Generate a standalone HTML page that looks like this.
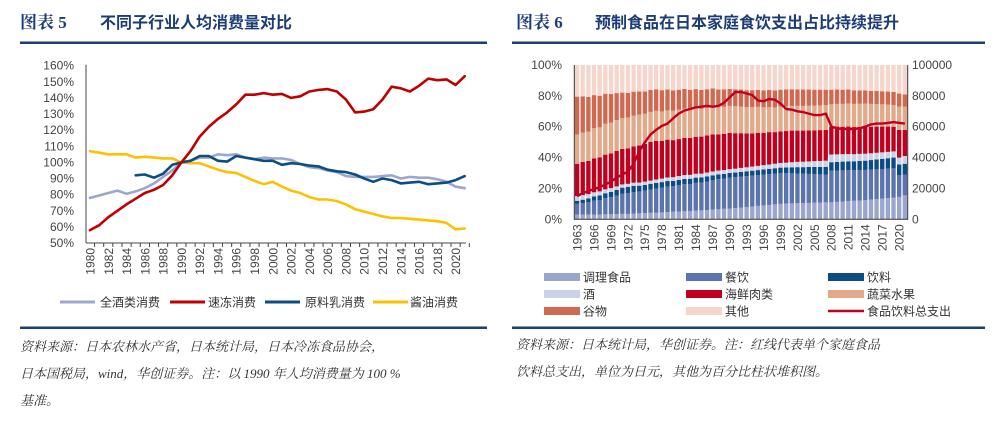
<!DOCTYPE html>
<html><head><meta charset="utf-8"><style>
html,body{margin:0;padding:0;background:#fff;}
svg{display:block;font-family:"Liberation Sans","Noto Sans CJK SC",sans-serif;}
</style></head><body>
<svg id="s" width="1004" height="423" viewBox="0 0 1004 423" xmlns="http://www.w3.org/2000/svg">
<g font-weight="bold" fill="#1c3d75" font-size="17" font-family="'Liberation Serif','Noto Serif CJK SC',serif">
<text x="20" y="28">图表 5</text><text x="100" y="28" font-family="'Liberation Sans','Noto Sans CJK SC',sans-serif" font-size="16">不同子行业人均消费量对比</text></g>
<g font-weight="bold" fill="#1c3d75" font-size="17" font-family="'Liberation Serif','Noto Serif CJK SC',serif">
<text x="516" y="28">图表 6</text><text x="595" y="28" font-family="'Liberation Sans','Noto Sans CJK SC',sans-serif" font-size="16">预制食品在日本家庭食饮支出占比持续提升</text></g>
<rect x="20" y="41.5" width="467" height="2.5" fill="#1c3d75"/>
<rect x="512" y="41.5" width="473" height="2.5" fill="#1c3d75"/>
<rect x="20" y="326.5" width="467" height="2.5" fill="#1c3d75"/>
<rect x="512" y="326.5" width="473" height="2.5" fill="#1c3d75"/>
<g font-style="italic" font-size="13" fill="#333" font-family="'Liberation Serif','Noto Serif CJK SC',serif">
<text x="20" y="351">资料来源：日本农林水产省，日本统计局，日本冷冻食品协会，</text>
<text x="20" y="378">日本国税局，wind，华创证券。注：以 1990 年人均消费量为 100 %</text>
<text x="20" y="405">基准。</text></g>
<g font-style="italic" font-size="13" fill="#333" font-family="'Liberation Serif','Noto Serif CJK SC',serif">
<text x="516" y="349">资料来源：日本统计局，华创证券。注：红线代表单个家庭食品</text>
<text x="516" y="376">饮料总支出，单位为日元，其他为百分比柱状堆积图。</text></g>
<g id="left"></g><g id="right"></g>
</svg>
<script>
// ---- Left chart data ----
const lYears = [];for(let y=1980;y<=2021;y++)lYears.push(y);
const lTicks = [50,60,70,80,90,100,110,120,130,140,150,160];
const liquor = [78,79.5,81,82.5,80.5,82,84,87,91,95,100,101,103,103,105,104.5,105,103,102,103,102.5,102.5,101.5,99,97,96.5,95,94,91.5,91,91,91,91.5,92,90,91,90.5,90.5,89.5,88,85,84];
const frozen = [58,61,66,70,74,77.5,81,83,86,92,100,107,116,122,127,131,136,142,142,143,142,142.5,140,141,144,145,145.5,144,139,131,131.5,133,139,147,146,144,147.5,152,151,151.5,148,153.5];
const milkYears = [];for(let y=1985;y<=2021;y++)milkYears.push(y);
const milk = [92,92.5,90.5,93,98.5,100,101,104,104,101,100.5,104,103,102,101,101,98.5,99.5,99,98,97.5,95.5,94.5,94,92.5,90,88,90,89,87,87.5,88,86.5,87,87.5,89,91.5];
const soy = [107,106,105,105,105,103,103.5,103,102.5,102.5,100,99.5,99.5,97.5,95.5,94,93.5,91,88.5,86.5,88,85,82.5,81,78.5,77,77,76,74,71,69.5,68,66.5,65.5,65.5,65,64.5,64,63.5,62.5,58.5,59];

// ---- Right chart data ----
const rYears = [];for(let y=1963;y<=2021;y++)rYears.push(y);
const rTicksL = [0,20,40,60,80,100];
const rTicksR = [0,20000,40000,60000,80000,100000];
const prepared = [3,3,3,3,3,3.2,3.3,3.4,3.5,3.5, 3.7,3.9,4,4.2,4.4,4.5,4.7,4.9,5, 5.2,5.4,5.6,5.8,6,6.3,6.5,6.8,7, 7.3,7.6,8,8.3,8.7,9,9.3,9.7,10, 10.1,10.3,10.4,10.5,10.6,10.8,10.9,11, 11,11.3,11.5,11.8,12,12.2,12.5, 12.8,13.1,13.4,13.7,14, 14.5,15.5];
const dining = [7,7.5,8,9,9.5,10.5,11,12,13,13.5, 14,14,14.5,15,15.5,16,16.5,16.5,17, 17.5,17.5,18,18,18.5,19,19.5,19.5,20, 20,20,20,20,20,20,20,20,20, 19.8,19.5,19.3,19,18.8,18.5,18.2,18, 20.5,20.3,20.2,20,19.8,19.7,19.5, 19.4,19.3,19.2,19.1,19, 14,13.5];
const drinks = [2,2.2,2.5,2.8,3,3.2,3.5,3.7,4,4, 4,3.9,3.8,3.8,3.7,3.6,3.6,3.5,3.5, 3.5,3.4,3.4,3.3,3.3,3.2,3.1,3.1,3, 3,3.1,3.1,3.2,3.2,3.3,3.4,3.4,3.5, 3.7,3.9,4.1,4.3,4.5,4.6,4.8,5, 5.5,5.6,5.7,5.8,5.8,5.9,6, 6.2,6.4,6.6,6.8,7, 7,7];
const alcohol = [3,3,2.8,2.7,2.6,2.5,2.4,2.2,2.1,2, 2,2,2.1,2.1,2.2,2.3,2.3,2.4,2.5, 2.5,2.5,2.5,2.5,2.5,2.5,2.5,2.5,2.5, 2.5,2.6,2.6,2.7,2.7,2.8,2.8,2.9,3, 3.1,3.3,3.4,3.5,3.6,3.8,3.9,4, 5,4.9,4.8,4.7,4.6,4.6,4.5, 4.4,4.3,4.2,4.1,4, 4.5,5];
const meat = [21,21.5,21.5,22,22,22.5,22.5,23,23,23, 23.5,24,24.5,25,25,24.5,24.5,24,24, 24,24,24,24,24,24,23.5,23.5,23.5, 23,22.5,22,21.5,21.5,21,21,20.5,20.5, 20.5,20.5,20.3,20.2,20.1,20,20,20, 18,18,17.8,17.8,17.6,17.5,17.5, 17.2,17,16.7,16.4,16, 18,17];
const veg = [19,19,19,19.5,19.5,20,20,20,20,20, 20,20,19.5,19.5,19.5,19,19,19,19, 19,18.5,18.5,18,18,18,17.5,17.5,17.5, 17.5,17.3,17,17,16.8,16.5,16.3,16,16, 16,16,16,16,16,16,16,16, 14.5,14.7,14.8,15,15,15,15, 14.8,14.6,14.4,14.2,14, 15,15];
const grain = [24.5,23.5,22.5,21.5,20.5,19.5,18.5,17.5,16.5,16, 15.5,15,14.5,14.2,14,13.8,13.5,13.2,13, 12.8,12.6,12.4,12.2,12,11.8,11.5,11.3,11, 11,11,11,11,11,11,11,11,11, 11,10.8,10.7,10.6,10.5,10.3,10.2,10, 9.5,9.3,9.2,9,8.8,8.7,8.5, 8.5,8.5,8.5,8.5,8.5, 8.5,8];
const totalSpend = [15000,17000,18500,19500,21000,22500,24500,27000,29000,31000,36000,44000,50000,55000,58000,60500,62000,65500,68500,70500,71500,72500,73000,73500,73000,73500,75500,79000,82500,82500,81500,80500,77000,76500,78000,77500,75000,71500,71000,70000,69500,68500,67500,67500,68500,60000,59000,58500,58500,58500,59000,60000,61500,62000,62000,62500,63000,62500,62000];

const NS='http://www.w3.org/2000/svg';
function mk(parent,tag,attrs,txt){const e=document.createElementNS(NS,tag);for(const k in attrs)e.setAttribute(k,attrs[k]);if(txt!==undefined)e.textContent=txt;parent.appendChild(e);return e;}

// ---- Left chart ----
const L=document.getElementById('left');
const lx0=86,lx1=466,ly0=243,ly1=65.7;
const lxs=y=>90+(y-1980)*9.14;
const lys=v=>ly0-(v-50)*(ly0-ly1)/110;
lTicks.forEach(t=>{
  const e=mk(L,'text',{x:74,y:lys(t)+4,'text-anchor':'end','font-size':12,fill:'#444'},t+'%');
  
  
});
const lax=mk(L,'line',{x1:lx0,y1:ly1-1,x2:lx0,y2:ly0,stroke:'#444','stroke-width':1});


const lxa=mk(L,'line',{x1:lx0,y1:ly0,x2:lx1,y2:ly0,stroke:'#444','stroke-width':1});


lYears.forEach((y,i)=>{
  const tk=mk(L,'line',{x1:lxs(y)+4.57,y1:ly0,x2:lxs(y)+4.57,y2:ly0+4,stroke:'#444'});
  
  
  if(y%2===0){
    const t=mk(L,'text',{x:0,y:0,transform:`translate(${lxs(y)+4.5},${ly0+5}) rotate(-90)`,'text-anchor':'end','font-size':12,fill:'#444'},y);
    
    
  }
});
function lline(xs,vals,color,name){
  const d=vals.map((v,i)=>(i?'L':'M')+lxs(xs[i]).toFixed(1)+','+lys(v).toFixed(1)).join('');
  const p=mk(L,'path',{d:d,fill:'none',stroke:color,'stroke-width':2.6,'stroke-linejoin':'round','stroke-linecap':'round'});
  
  
}
lline(lYears,soy,'#ffc000','soy-sauce-line');
lline(lYears,liquor,'#9da7cc','liquor-line');
lline(milkYears,milk,'#0b4d85','raw-milk-line');
lline(lYears,frozen,'#c00000','frozen-food-line');
const lLeg=[['全酒类消费','#9da7cc',60,100],['速冻消费','#c00000',170,208],['原料乳消费','#0b4d85',265,305],['酱油消费','#ffc000',373,410]];
lLeg.forEach(l=>{
  const g=mk(L,'g',{});
  
  
  mk(g,'line',{x1:l[2],y1:302,x2:l[2]+35,y2:302,stroke:l[1],'stroke-width':3});
  mk(g,'text',{x:l[3],y:306.5,'font-size':12,fill:'#333'},l[0]);
});

// ---- Right chart ----
const R=document.getElementById('right');
const rx0=574.3,rx1=907.7,ry0=219.3,ry1=65;
const band=(rx1-rx0)/rYears.length;
const rxs=i=>rx0+i*band;
const rys=p=>ry0-p*(ry0-ry1)/100;
const rys2=v=>ry0-v*(ry0-ry1)/100000;
const series=[[prepared,'#9aa6cd','调理食品'],[dining,'#5b74ae','餐饮'],[drinks,'#0d4b87','饮料'],[alcohol,'#cbd1e7','酒'],[meat,'#c0001e','海鲜肉类'],[veg,'#e2aa8a','蔬菜水果'],[grain,'#d0694f','谷物']];
rYears.forEach((y,i)=>{
  let c=0;
  series.forEach(s=>{
    const v=s[0][i];
    const r=mk(R,'rect',{x:(rxs(i)+0.6).toFixed(2),y:rys(c+v).toFixed(2),width:(band-1.3).toFixed(2),height:(rys(c)-rys(c+v)).toFixed(2),fill:s[1]});
    
    
    c+=v;
  });
  const r=mk(R,'rect',{x:(rxs(i)+0.6).toFixed(2),y:rys(100).toFixed(2),width:(band-1.3).toFixed(2),height:(rys(c)-rys(100)).toFixed(2),fill:'#f4d6cd'});
  
  
  if(i%3===0){
    const t=mk(R,'text',{x:0,y:0,transform:`translate(${rxs(i)+band/2+4.3},${ry0+5}) rotate(-90)`,'text-anchor':'end','font-size':12,fill:'#444'},y);
    
    
  }
});
rTicksL.forEach(t=>{
  const e=mk(R,'text',{x:562,y:rys(t)+4,'text-anchor':'end','font-size':12,fill:'#444'},t+'%');
  
  
});
rTicksR.forEach(t=>{
  const e=mk(R,'text',{x:912,y:rys2(t)+4,'font-size':12,fill:'#444'},t);
  
  
});
const ra1=mk(R,'path',{d:`M${rx0},${ry1}V${ry0}H${rx1}V${ry1}`,fill:'none',stroke:'#333','stroke-width':1});


const td=totalSpend.map((v,i)=>(i?'L':'M')+(rxs(i)+band/2).toFixed(1)+','+rys2(v).toFixed(1)).join('');
const tl=mk(R,'path',{d:td,fill:'none',stroke:'#c00020','stroke-width':2.4,'stroke-linejoin':'round'});


const rLeg=[['调理食品','#9aa6cd',0,0],['餐饮','#5b74ae',1,0],['饮料','#0d4b87',2,0],['酒','#cbd1e7',0,1],['海鲜肉类','#c0001e',1,1],['蔬菜水果','#e2aa8a',2,1],['谷物','#d0694f',0,2],['其他','#f4d6cd',1,2]];
const colX=[544,686,828],rowY=[277,294,311];
rLeg.forEach(l=>{
  const g=mk(R,'g',{});
  
  
  mk(g,'rect',{x:colX[l[2]],y:rowY[l[3]]-4,width:36,height:8,fill:l[1]});
  mk(g,'text',{x:colX[l[2]]+39,y:rowY[l[3]]+4.5,'font-size':12,fill:'#333'},l[0]);
});
const lg=mk(R,'g',{});


mk(lg,'line',{x1:828,y1:311,x2:864,y2:311,stroke:'#c00020','stroke-width':2.5});
mk(lg,'text',{x:867,y:315.5,'font-size':12,fill:'#333'},'食品饮料总支出');
</script>
</body></html>
